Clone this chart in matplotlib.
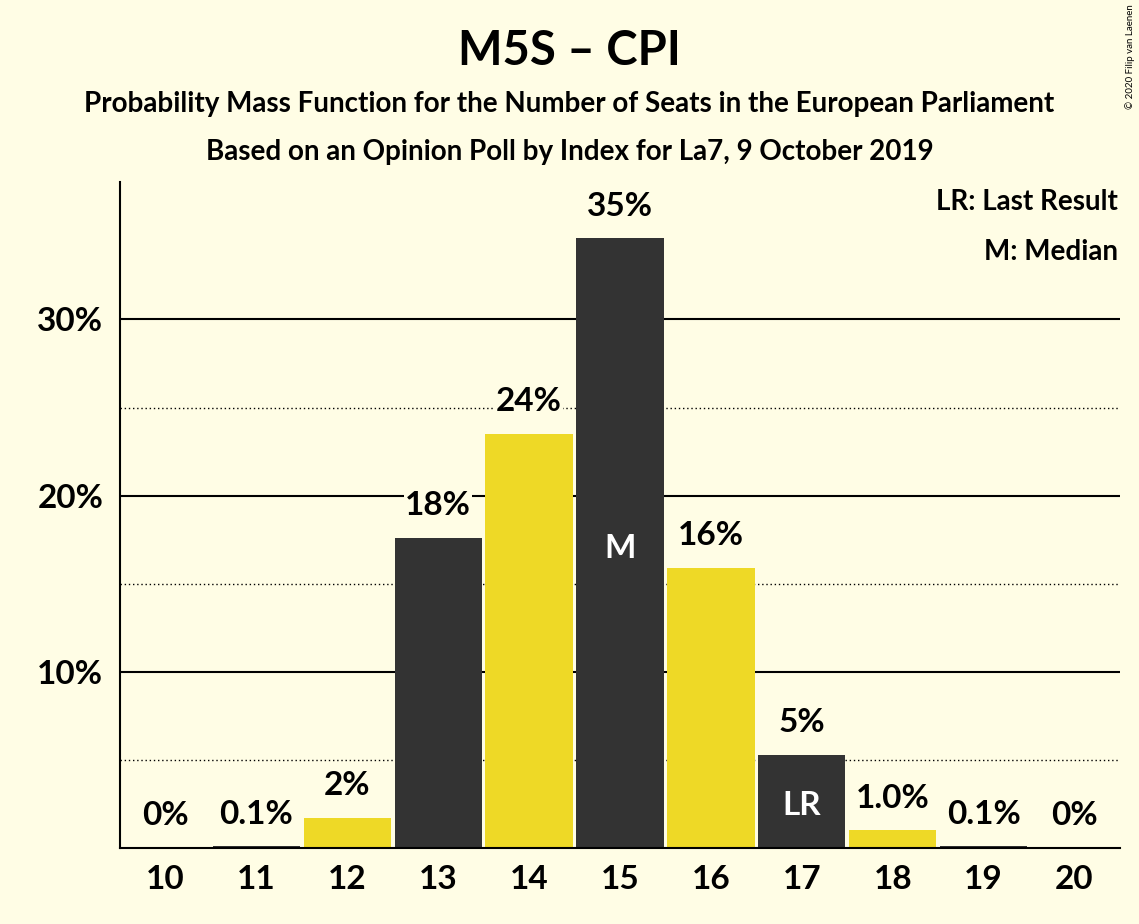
import matplotlib
matplotlib.use("Agg")
import matplotlib.pyplot as plt

seats = [10, 11, 12, 13, 14, 15, 16, 17, 18, 19, 20]
probs = [0.0, 0.1, 1.7, 17.6, 23.5, 34.6, 15.9, 5.3, 1.0, 0.1, 0.0]
labels = ["0%", "0.1%", "2%", "18%", "24%", "35%", "16%", "5%", "1.0%", "0.1%", "0%"]
colors = ["#333333" if s in (11, 13, 15, 17, 19) else "#EED926" for s in seats]
bg = "#FFFDE5"

plt.rcParams['font.family'] = ['Lato', 'DejaVu Sans']
fig = plt.figure(figsize=(11.39, 9.24), dpi=100, facecolor=bg)
ax = fig.add_axes([120/1139, 76/924, 1000/1139, 666/924], facecolor=bg)

for y in [5, 15, 25]:
    ax.axhline(y, color="black", lw=1, ls=(0, (1, 2)), zorder=0)
for y in [10, 20, 30]:
    ax.axhline(y, color="black", lw=1.5, zorder=0)

ax.bar(seats, probs, width=0.96, color=colors, zorder=2)
for s, p, l in zip(seats, probs, labels):
    ax.text(s, p + 1.0, l, ha="center", va="bottom", fontsize=24, fontweight="bold",
            zorder=3, bbox=dict(facecolor=bg, edgecolor="none", pad=1))
ax.text(15, 17.0, "M", ha="center", va="center", fontsize=24, fontweight="bold", color="white", zorder=4)
ax.text(17, 2.4, "LR", ha="center", va="center", fontsize=24, fontweight="bold", color="white", zorder=4)

ax.set_xlim(9.5, 20.5)
ax.set_ylim(0, 37.8)
ax.set_xticks(seats)
ax.set_xticklabels([str(s) for s in seats])
ax.set_yticks([10, 20, 30])
ax.set_yticklabels(["10%", "20%", "30%"])
ax.tick_params(length=0, labelsize=24, pad=12)
for t in ax.get_xticklabels() + ax.get_yticklabels():
    t.set_fontweight("bold")
for sp in ["top", "right"]:
    ax.spines[sp].set_visible(False)
ax.spines["left"].set_linewidth(1.5)
ax.spines["bottom"].set_linewidth(1.5)

ax.text(0.998, 0.99, "LR: Last Result", transform=ax.transAxes, ha="right", va="top", fontsize=20, fontweight="bold")
ax.text(0.998, 0.915, "M: Median", transform=ax.transAxes, ha="right", va="top", fontsize=20, fontweight="bold")

fig.text(0.5, 0.945, "M5S – CPI", ha="center", va="center", fontsize=34, fontweight="bold")
fig.text(0.5, 0.887, "Probability Mass Function for the Number of Seats in the European Parliament",
         ha="center", va="center", fontsize=20, fontweight="bold")
fig.text(0.5, 0.835, "Based on an Opinion Poll by Index for La7, 9 October 2019",
         ha="center", va="center", fontsize=20, fontweight="bold")
fig.text(0.992, 0.995, "© 2020 Filip van Laenen", rotation=90, ha="center", va="top", fontsize=7)

fig.savefig("out.png", dpi=100, facecolor=bg)
